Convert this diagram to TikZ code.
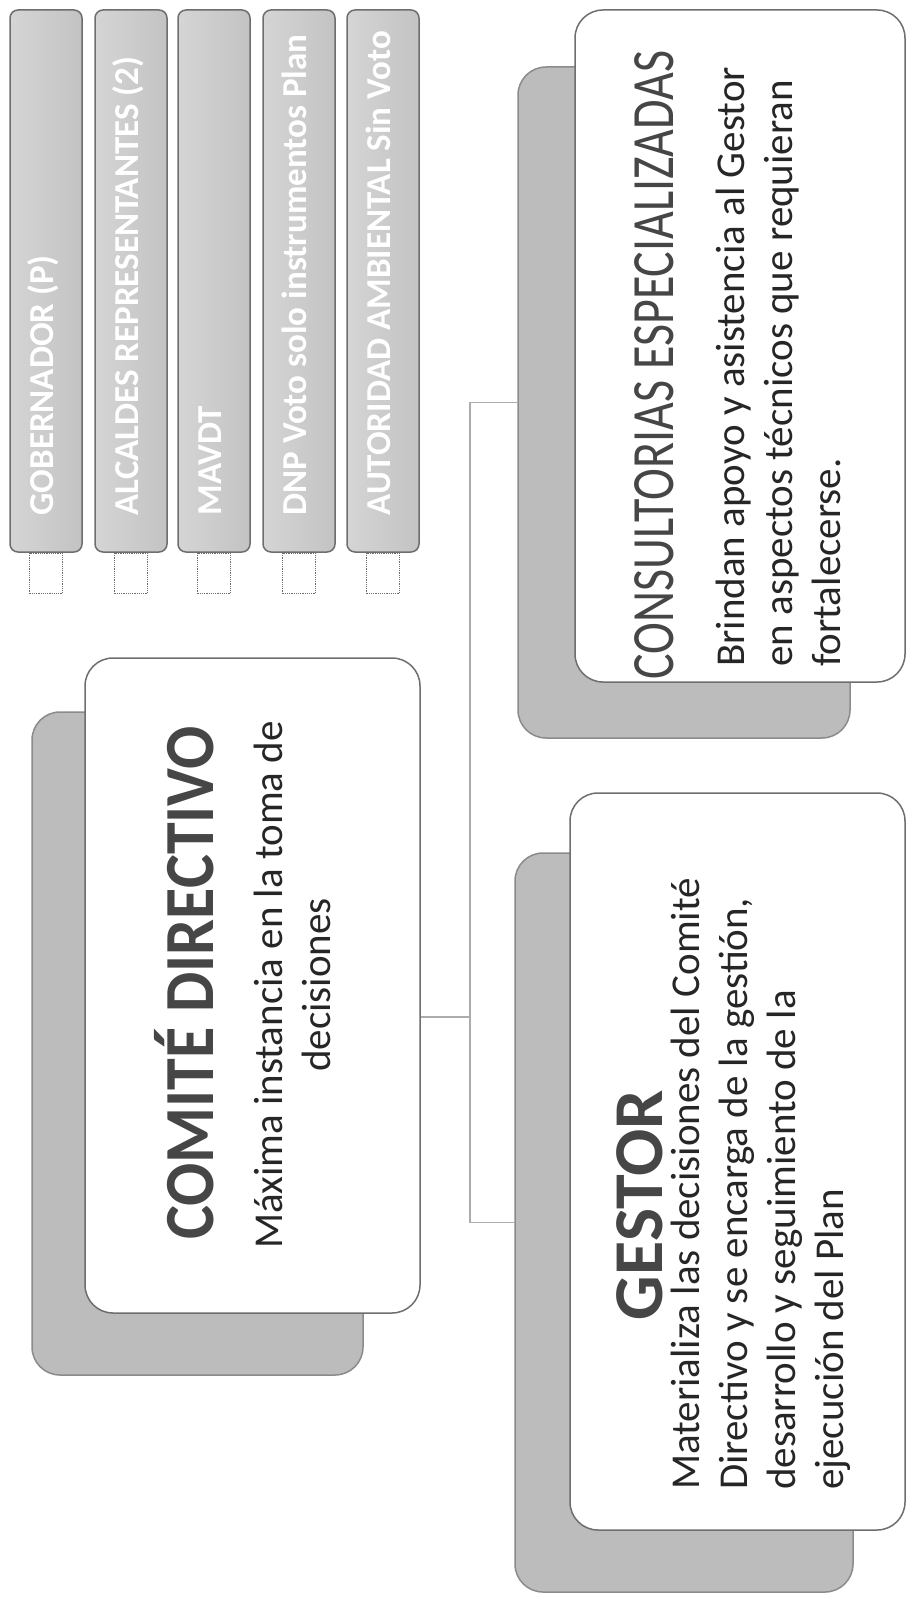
\documentclass[tikz,border=0pt]{standalone}
\usepackage{fontspec}
\setmainfont{Carlito}
\usetikzlibrary{positioning,calc}
\definecolor{orgline}{RGB}{110,110,110}
\definecolor{orgshade}{RGB}{188,188,188}
\definecolor{orgstrip}{RGB}{195,195,195}
\definecolor{orghead}{RGB}{70,70,70}
\tikzset{
  frontcard/.style={draw=orgline, line width=1.5pt, fill=white, rounded corners=28pt, inner sep=0pt},
  backcard/.style={draw=orgline!80, line width=1.5pt, fill=orgshade, rounded corners=28pt, inner sep=0pt},
  memberstrip/.style={draw=orgline, line width=1.5pt, left color=orgstrip!70, right color=orgstrip,
    rounded corners=8pt, inner sep=0pt, minimum width=72pt, minimum height=542pt},
  membertab/.style={draw=orgline, densely dotted, line width=1.2pt, fill=white, inner sep=0pt,
    minimum width=33pt, minimum height=40pt},
  membertxt/.style={rotate=90, anchor=base west, inner sep=0pt, text=white,
    font=\fontsize{35}{42}\selectfont\bfseries},
  headtxt/.style={rotate=90, inner sep=0pt, text=orghead},
  bodytxt/.style={rotate=90, inner sep=0pt, text=black!85, font=\fontsize{41}{48}\selectfont},
  link/.style={draw=gray!65, line width=1.5pt}
}
\begin{document}
\begin{tikzpicture}[x=1pt,y=1pt]
  \useasboundingbox (0,0) rectangle (907,-1600);

  % members of the committee
  \foreach \i/\xc/\txt in {1/46/{GOBERNADOR (P)},2/131/{ALCALDES REPRESENTANTES (2)},3/214/{MAVDT},
      4/299/{DNP Voto solo instrumentos Plan},5/383/{AUTORIDAD AMBIENTAL Sin Voto}} {
    \node[memberstrip] (strip\i) at (\xc,-281) {};
    \node[membertab, below=0pt of strip\i] (tab\i) {};
    \node[membertxt] (member\i) at ($(strip\i.south)+(7,37)$) {\txt};
  }

  % shadow cards
  \node[backcard, minimum width=331pt, minimum height=663pt] (comiteback) at (197.5,-1043.5) {};
  \node[backcard, minimum width=332pt, minimum height=671pt] (consultback) at (684,-402.5) {};
  \node[backcard, minimum width=338pt, minimum height=739pt] (gestorback) at (684,-1222.5) {};

  % front cards
  \node[frontcard, minimum width=335pt, minimum height=655pt] (comite) at (252.5,-985.5) {};
  \node[frontcard, minimum width=330pt, minimum height=672pt] (consult) at (740,-346) {};
  \node[frontcard, minimum width=335pt, minimum height=737pt] (gestor) at (737.5,-1161.5) {};

  % texts (base = last line)
  \node[headtxt, anchor=base, font=\fontsize{64}{70}\selectfont\bfseries] (comitehead) at (213,-983)
    {\scalebox{1}[1.1]{COMITÉ DIRECTIVO}};
  \node[bodytxt, anchor=base, align=center] (comitebody) at (330,-985)
    {Máxima instancia en la toma de\\decisiones};
  \node[headtxt, anchor=base west, font=\fontsize{48}{54}\selectfont] (consulthead) at (673,-680)
    {\scalebox{1}[1.25]{CONSULTORIAS ESPECIALIZADAS}};
  \node[bodytxt, anchor=base west, align=left] (consultbody) at (840,-667)
    {Brindan apoyo y asistencia al Gestor\\en aspectos técnicos que requieran\\fortalecerse.};
  \node[headtxt, anchor=base, font=\fontsize{70}{76}\selectfont\bfseries] (gestorhead) at (662,-1205) {GESTOR};
  \node[bodytxt, anchor=base west, align=left] (gestorbody) at (843,-1490)
    {Materializa las decisiones del Comité\\Directivo y se encarga de la gestión,\\desarrollo y seguimiento de la\\ejecución del Plan};

  % connectors
  \coordinate (hub) at (470,-1017);
  \draw[link] (consultback.west) -| (hub) |- (gestorback.west);
  \draw[link] (comite.east |- hub) -- (hub);
\end{tikzpicture}
\end{document}
